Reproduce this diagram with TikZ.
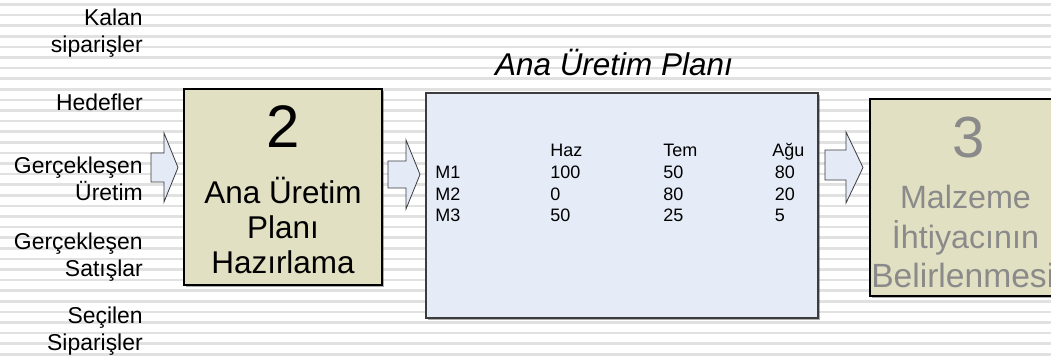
\documentclass[tikz,border=0pt]{standalone}
\usepackage{fontspec}
\setmainfont{Liberation Sans}
\usetikzlibrary{shadows}
\definecolor{khaki}{RGB}{226,224,194}
\definecolor{paleblue}{RGB}{230,236,247}
\definecolor{arrowblue}{RGB}{228,235,247}
\definecolor{stripe}{RGB}{225,225,225}
\definecolor{edge}{RGB}{60,60,60}
\definecolor{fadetext}{RGB}{138,138,138}
\begin{document}
\begin{tikzpicture}[x=0.75pt,y=-0.75pt,
  lbl/.style={inner sep=0pt, align=right, anchor=base east,
    font=\fontsize{17.2}{19.9}\selectfont},
  boxshadow/.style={drop shadow={shadow xshift=1.2pt, shadow yshift=-1.2pt, opacity=0.45, fill=black!70}},
  procbox/.style={draw=black, line width=0.8pt, fill=khaki, inner sep=0pt, boxshadow},
  planbox/.style={draw=edge, line width=0.8pt, fill=paleblue, inner sep=0pt, boxshadow},
  blockarrow/.style={draw=edge, line width=0.6pt, fill=arrowblue, line join=miter},
  bigdigit/.style={inner sep=0pt, anchor=base},
  boxtext/.style={inner sep=0pt, anchor=base, align=center}
]
\useasboundingbox (0,0) rectangle (1051,358);
\clip (0,0) rectangle (1051,358);
\fill[white] (0,0) rectangle (1051,358);
\foreach \k in {0,...,33}
  \draw[stripe, line width=1.9pt] (0,{4.5+10.6*\k}) -- (1051,{4.5+10.6*\k});

% left input labels (base = last line)
\node[lbl] (kalan) at (143,52) {Kalan\\siparişler};
\node[lbl] (hedef) at (143,110) {Hedefler};
\node[lbl] (gerur) at (143,200) {Gerçekleşen\\Üretim};
\node[lbl] (gersat) at (143,276) {Gerçekleşen\\Satışlar};
\node[lbl] (secsip) at (143,350) {Seçilen\\Siparişler};

% boxes
\node[procbox, minimum width=148.5pt, minimum height=147pt] (box2) at (283,187) {};
\node[planbox, minimum width=294pt, minimum height=168.75pt] (plan) at (622,205.5) {};
\node[procbox, minimum width=148.5pt, minimum height=147.75pt] (box3) at (969,197.5) {};

% box 2 text
\node[bigdigit, font=\fontsize{45}{54}\selectfont] (n2) at (283,147) {2};
\node[boxtext, font=\fontsize{23.6}{26.25}\selectfont] (t2) at (283,273) {Ana Üretim\\Planı\\Hazırlama};

% box 3 text
\node[bigdigit, font=\fontsize{43.5}{52}\selectfont, text=fadetext] (n3) at (968.5,157) {3};
\node[boxtext, font=\fontsize{24.2}{29.6}\selectfont, text=fadetext] (t3) at (965.5,248) {Malzeme\\İhtiyacının};
\node[inner sep=0pt, anchor=base west, font=\fontsize{25.2}{29.6}\selectfont, text=fadetext] (t3b) at (871,287) {Belirlenmesi};

% title
\node[inner sep=0pt, anchor=base, font=\fontsize{23.6}{28}\itshape] (title) at (614,75) {Ana Üretim Planı};

% table
\node[inner sep=0pt, anchor=base west, font=\fontsize{13.5}{16.3}\selectfont] (tbl) at (435,156.7)
{\renewcommand{\arraystretch}{1}\setlength{\tabcolsep}{0pt}%
\begin{tabular}[t]{p{86.25pt}p{84.75pt}p{81.75pt}l}
 & Haz & Tem & Ağu\\
M1 & 100 & 50 & \hspace{2pt}80\\
M2 & 0 & 80 & \hspace{2pt}20\\
M3 & 50 & 25 & \hspace{2pt}5
\end{tabular}};

% block arrows
\draw[blockarrow] (151,153) -- (164,153) -- (164,133) -- (178,167.5) -- (164,202) -- (164,182) -- (151,182) -- cycle;
\draw[blockarrow] (388,161) -- (406,161) -- (406,140) -- (420,174.5) -- (406,209) -- (406,188) -- (388,188) -- cycle;
\draw[blockarrow] (825,150) -- (846,150) -- (846,132) -- (863,167.5) -- (846,203) -- (846,180) -- (825,180) -- cycle;
\end{tikzpicture}
\end{document}
